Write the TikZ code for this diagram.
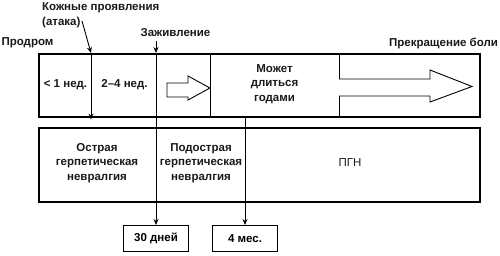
\documentclass[tikz,border=0pt]{standalone}
\usepackage{fontspec}
\setmainfont{Liberation Sans}
\usetikzlibrary{arrows.meta}
\begin{document}
\begin{tikzpicture}[x=1pt,y=-1pt]
\tikzset{
  lbl/.style={font=\bfseries\fontsize{11.5}{14.5}\selectfont, inner sep=0pt, text=black!90},
  frame/.style={draw, line width=1.6pt, inner sep=0pt},
  smallbox/.style={draw, line width=1.3pt, inner sep=0pt, minimum width=65pt, minimum height=26pt, font=\bfseries\fontsize{11.5}{13}\selectfont},
  thinline/.style={line width=0.9pt},
  tipped/.style={-{Stealth[length=6pt,width=5pt]}},
  blockarrow/.style={draw, line width=0.9pt, fill=white, line join=miter},
}
\useasboundingbox (0,0) rectangle (500,256);

% frames
\node[frame, minimum width=441pt, minimum height=63pt, anchor=north west] (top) at (38,53) {};
\node[frame, minimum width=441pt, minimum height=74pt, anchor=north west] (bot) at (38,127) {};

% x positions
\coordinate (d1) at (210,0);
\coordinate (d2) at (339,0);
\coordinate (heal) at (156,0);
\coordinate (skin) at (91,0);
\coordinate (pgn) at (245,0);

\draw[thinline] (d1 |- top.north) -- (d1 |- top.south);
\draw[thinline] (d2 |- top.north) -- (d2 |- top.south);

% small boxes
\node[smallbox, anchor=north] (d30) at (156,225) {30 дней};
\node[smallbox, anchor=north] (m4) at (245,225) {4 мес.};

% labels
\node[lbl] (prodrom) at (27.5,43) {Продром};
\node[lbl, anchor=west] (skin1) at (42,8) {Кожные проявления};
\node[lbl, anchor=west] (atak) at (42,23) {(атака)};
\node[lbl] (healtxt) at (175.5,33) {Заживление};
\node[lbl] (stop) at (443.5,43) {Прекращение боли};
\node[lbl] (w1) at (65.5,85) {< 1 нед.};
\node[lbl] (w24) at (124.5,85) {2–4 нед.};
\node[lbl, align=center] (years) at (274.5,84) {Может\\длиться\\годами};
\node[lbl, align=center] (acute) at (97,163) {Острая\\герпетическая\\невралгия};
\node[lbl, align=center] (sub) at (201,163) {Подострая\\герпетическая\\невралгия};
\node[lbl, font=\fontsize{11.5}{13}\selectfont] (pgnt) at (350,163) {ПГН};

% arrows
\coordinate (atkend) at (82,21);
\draw[thinline, tipped] (atkend) -- (skin |- top.north);
\draw[thinline, tipped] (skin |- top.north) -- ([yshift=-2pt]skin |- top.south);
\draw[thinline, tipped] (heal |- healtxt.south) ++(0,4) -- (heal |- top.north);
\draw[thinline, tipped] (heal |- top.north) -- (heal |- d30.north);
\draw[thinline, tipped] (pgn |- top.south) -- (pgn |- m4.north);

% block arrows
\draw[blockarrow] (167,83) -- (188,83) -- (188,76) -- (210,88) -- (188,100) -- (188,97) -- (167,97) -- cycle;
\draw[blockarrow] (339,79) -- (430,79) -- (430,70) -- (472,86.5) -- (430,102) -- (430,96) -- (339,96);
\end{tikzpicture}
\end{document}
